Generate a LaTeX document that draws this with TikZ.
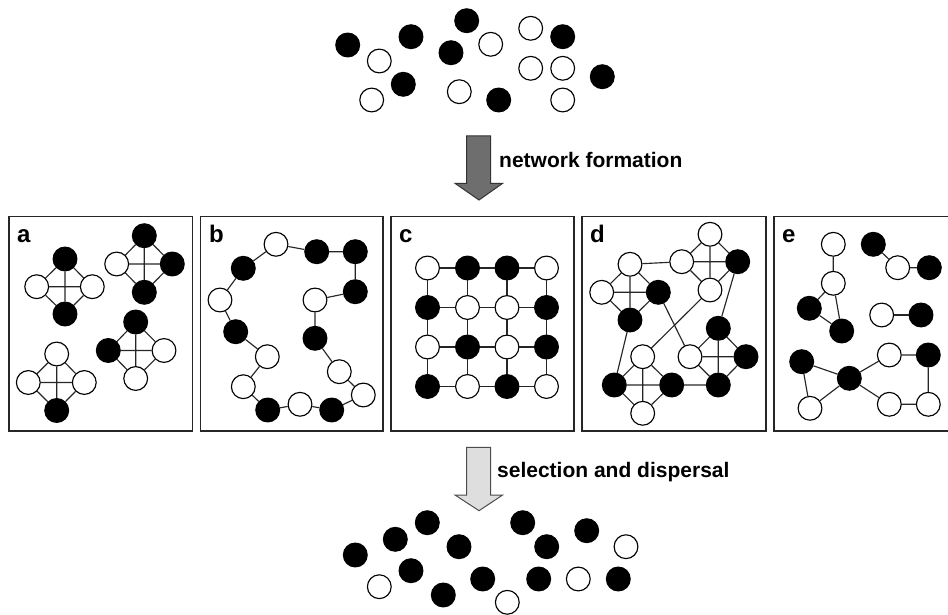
\documentclass[tikz,border=0pt]{standalone}
\usepackage{fontspec}
\setmainfont{Liberation Sans}
\newcommand\kfour[4]{\draw[edge] (#1)--(#2) (#1)--(#3) (#1)--(#4) (#2)--(#3) (#2)--(#4) (#3)--(#4);}
\begin{document}
\begin{tikzpicture}[x=1pt,y=-1pt,
  wn/.style={circle,draw=black,line width=1.15pt,fill=white,minimum size=23.8pt,inner sep=0pt},
  bn/.style={wn,fill=black},
  edge/.style={line width=1.15pt,draw=black!85},
  panel/.style={draw=black!85,line width=1.3pt},
  lbl/.style={font=\bfseries\fontsize{24}{28}\selectfont,anchor=base west,inner sep=0pt},
  arrowtext/.style={font=\bfseries\fontsize{21}{25}\selectfont,anchor=base west,inner sep=0pt}]
\useasboundingbox (0,0) rectangle (948,615);

% ---------- top population ----------
\node[bn] (t1) at (347.7,45) {};
\node[wn] (t2) at (379.3,61) {};
\node[bn] (t3) at (411,36.7) {};
\node[bn] (t4) at (403.3,84.3) {};
\node[wn] (t5) at (371.7,100) {};
\node[bn] (t6) at (466.7,20.7) {};
\node[bn] (t7) at (451,52.7) {};
\node[wn] (t8) at (490.7,44.3) {};
\node[wn] (t9) at (459.3,91.7) {};
\node[bn] (t10) at (498.7,100) {};
\node[wn] (t11) at (530.7,28.3) {};
\node[bn] (t12) at (562.7,36.7) {};
\node[wn] (t13) at (530.7,68.3) {};
\node[wn] (t14) at (562.7,68.3) {};
\node[wn] (t15) at (562.7,100) {};
\node[bn] (t16) at (602.3,76.7) {};

% ---------- arrow 1 ----------
\draw[line width=1pt,draw=black!80,fill=black!57] (466.7,136) -- (490.7,136) -- (490.7,183.3) -- (502.7,183.3) -- (479,200) -- (455,183.3) -- (466.7,183.3) -- cycle;
\node[arrowtext] (txt1) at (499,167.7) {network formation};

% ---------- panels ----------
\draw[panel] (9,216.5) rectangle (192.5,431);
\draw[panel] (200.5,216.5) rectangle (383,431);
\draw[panel] (391,216.5) rectangle (574,431);
\draw[panel] (582,216.5) rectangle (766,431);
\draw[panel] (948,216.5) -- (774,216.5) -- (774,431) -- (948,431);

\node[lbl] (la) at (17,242) {a};
\node[lbl] (lb) at (209,242) {b};
\node[lbl] (lc) at (399,242) {c};
\node[lbl] (ld) at (590,242) {d};
\node[lbl] (le) at (782,242) {e};

% ---------- panel a ----------
\node[bn] (a1) at (65,259) {};
\node[wn] (a2) at (36.7,286.7) {};
\node[wn] (a3) at (92.3,286.7) {};
\node[bn] (a4) at (65,314) {};
\kfour{a1}{a2}{a3}{a4}
\node[bn] (a5) at (144.3,235.7) {};
\node[wn] (a6) at (116.7,264) {};
\node[bn] (a7) at (172.3,264) {};
\node[bn] (a8) at (144.3,292.3) {};
\kfour{a5}{a6}{a7}{a8}
\node[bn] (a9) at (135.7,322) {};
\node[bn] (a10) at (108.3,350.5) {};
\node[wn] (a11) at (164,350.5) {};
\node[wn] (a12) at (135.7,378.5) {};
\kfour{a9}{a10}{a11}{a12}
\node[wn] (a13) at (56.7,354) {};
\node[wn] (a14) at (28.3,382.5) {};
\node[wn] (a15) at (84.3,382.5) {};
\node[bn] (a16) at (56.7,410.5) {};
\kfour{a13}{a14}{a15}{a16}

% ---------- panel b ----------
\node[wn] (b1) at (276,244.3) {};
\node[bn] (b2) at (316.7,251.7) {};
\node[bn] (b3) at (355.3,251.7) {};
\node[bn] (b4) at (355.3,291.7) {};
\node[wn] (b5) at (315,300) {};
\node[bn] (b6) at (315,338.3) {};
\node[wn] (b7) at (339.3,371.7) {};
\node[wn] (b8) at (363.3,395) {};
\node[bn] (b9) at (331.7,410) {};
\node[wn] (b10) at (300,404.3) {};
\node[bn] (b11) at (267.7,410) {};
\node[wn] (b12) at (243.3,386.7) {};
\node[wn] (b13) at (267.3,356.7) {};
\node[bn] (b14) at (235.7,331.7) {};
\node[wn] (b15) at (220,300) {};
\node[bn] (b16) at (243.3,268.3) {};
\draw[edge] (b1)--(b2) (b2)--(b3) (b3)--(b4) (b4)--(b5) (b5)--(b6) (b6)--(b7) (b7)--(b8) (b8)--(b9)
  (b9)--(b10) (b10)--(b11) (b11)--(b12) (b12)--(b13) (b13)--(b14) (b14)--(b15) (b15)--(b16) (b16)--(b1);

% ---------- panel c ----------
\node[wn] (c11) at (427.5,268) {};
\node[bn] (c12) at (467.5,268) {};
\node[bn] (c13) at (507,268) {};
\node[wn] (c14) at (546.5,268) {};
\node[bn] (c21) at (427.5,307.5) {};
\node[wn] (c22) at (467.5,307.5) {};
\node[wn] (c23) at (507,307.5) {};
\node[bn] (c24) at (546.5,307.5) {};
\node[wn] (c31) at (427.5,347) {};
\node[bn] (c32) at (467.5,347) {};
\node[wn] (c33) at (507,347) {};
\node[bn] (c34) at (546.5,347) {};
\node[bn] (c41) at (427.5,386.5) {};
\node[wn] (c42) at (467.5,386.5) {};
\node[bn] (c43) at (507,386.5) {};
\node[wn] (c44) at (546.5,386.5) {};
\foreach \r in {1,2,3,4}{
  \draw[edge] (c\r1)--(c\r2) (c\r2)--(c\r3) (c\r3)--(c\r4);
  \draw[edge] (c1\r)--(c2\r) (c2\r)--(c3\r) (c3\r)--(c4\r);
}

% ---------- panel d ----------
\node[wn] (d1) at (630,264.3) {};
\node[wn] (d2) at (601.7,292.3) {};
\node[bn] (d3) at (658.3,292.3) {};
\node[bn] (d4) at (630,320) {};
\kfour{d1}{d2}{d3}{d4}
\node[wn] (d5) at (710,234.3) {};
\node[wn] (d6) at (681.7,261.7) {};
\node[bn] (d7) at (737.7,261.7) {};
\node[wn] (d8) at (710,290) {};
\kfour{d5}{d6}{d7}{d8}
\node[wn] (d9) at (642.7,356.7) {};
\node[bn] (d10) at (614.3,385) {};
\node[bn] (d11) at (671.7,385) {};
\node[wn] (d12) at (642.7,413.3) {};
\kfour{d9}{d10}{d11}{d12}
\node[bn] (d13) at (718.3,328.3) {};
\node[wn] (d14) at (690,356.7) {};
\node[bn] (d15) at (746,356.7) {};
\node[bn] (d16) at (718.3,385) {};
\kfour{d13}{d14}{d15}{d16}
\draw[edge] (d1)--(d6) (d3)--(d14) (d8)--(d9) (d7)--(d13) (d4)--(d10) (d11)--(d16);

% ---------- panel e ----------
\node[wn] (e1) at (833.3,244.3) {};
\node[wn] (e2) at (833.3,283.3) {};
\node[bn] (e3) at (809.3,308.3) {};
\node[bn] (e4) at (841.7,331) {};
\draw[edge] (e1)--(e2) (e2)--(e3) (e2)--(e4) (e3)--(e4);
\node[bn] (e5) at (873.3,244.3) {};
\node[wn] (e6) at (897.7,267.7) {};
\node[bn] (e7) at (929.3,267.7) {};
\draw[edge] (e5)--(e6) (e6)--(e7);
\node[wn] (e8) at (881.7,315) {};
\node[bn] (e9) at (921,315) {};
\draw[edge] (e8)--(e9);
\node[bn] (e10) at (801.7,361.7) {};
\node[bn] (e11) at (849.3,378.3) {};
\node[wn] (e12) at (810,408.3) {};
\node[wn] (e13) at (889.3,355) {};
\node[bn] (e14) at (928.3,355) {};
\node[wn] (e15) at (889.3,404.3) {};
\node[wn] (e16) at (928.3,404.3) {};
\draw[edge] (e10)--(e11) (e10)--(e12) (e11)--(e12) (e11)--(e13) (e13)--(e14) (e14)--(e16) (e11)--(e15) (e15)--(e16);

% ---------- arrow 2 ----------
\draw[line width=1pt,draw=black!70,fill=black!13] (466.7,447.3) -- (490.7,447.3) -- (490.7,495) -- (502.7,495) -- (479,510.7) -- (455,495) -- (466.7,495) -- cycle;
\node[arrowtext] (txt2) at (497,477) {selection and dispersal};

% ---------- bottom population ----------
\node[bn] (s1) at (355.3,555) {};
\node[bn] (s2) at (395.3,539.3) {};
\node[bn] (s3) at (427.3,522.7) {};
\node[bn] (s4) at (459,546.7) {};
\node[bn] (s5) at (411,570.7) {};
\node[wn] (s6) at (379.3,586.7) {};
\node[bn] (s7) at (443.3,595) {};
\node[bn] (s8) at (482.7,579) {};
\node[wn] (s9) at (507.3,602.3) {};
\node[bn] (s10) at (522.7,522.7) {};
\node[bn] (s11) at (546.7,546.7) {};
\node[bn] (s12) at (586.7,530.7) {};
\node[wn] (s13) at (626,546.7) {};
\node[bn] (s14) at (538.7,579) {};
\node[wn] (s15) at (578.3,579) {};
\node[bn] (s16) at (618.3,579) {};
\end{tikzpicture}
\end{document}
